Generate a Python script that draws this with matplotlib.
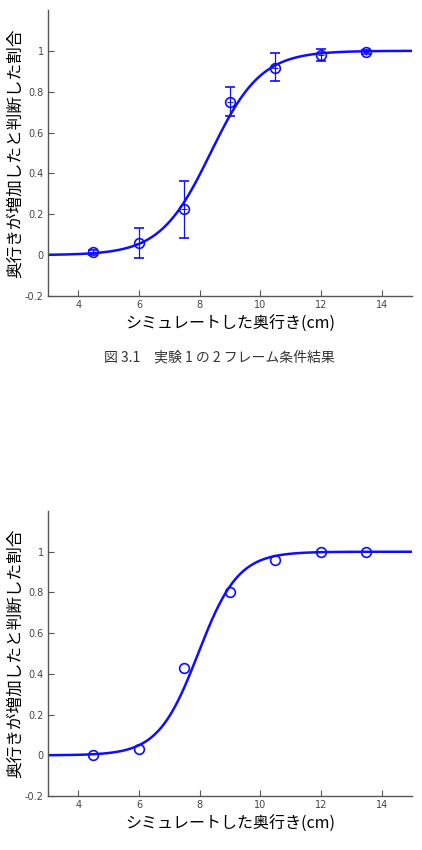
import numpy as np
import matplotlib.pyplot as plt

plt.rcParams['font.family'] = ['Noto Sans CJK JP', 'DejaVu Sans']

# 呈示した奥行き (cm)
depth = [4.5, 6, 7.5, 9, 10.5, 12, 13.5]

# 上: 2フレーム条件 (平均と誤差)
prop_top = [0.013, 0.06, 0.227, 0.75, 0.918, 0.979, 0.993]
err_lo_top = [0.012, 0.073, 0.142, 0.07, 0.068, 0.031, 0.01]
err_hi_top = [0.012, 0.074, 0.138, 0.074, 0.071, 0.028, 0.01]

# 下: 一人分
prop_bot = [0.0, 0.031, 0.431, 0.80, 0.96, 1.0, 1.0]

# ロジスティック当てはめのパラメータ
fit_top = (8.36, 0.83)
fit_bot = (7.95, 0.66)

xticks = [4, 6, 8, 10, 12, 14]
yticks = [-0.2, 0, 0.2, 0.4, 0.6, 0.8, 1]
ytick_labels = ['-0.2', '0', '0.2', '0.4', '0.6', '0.8', '1']

blue = '#0d0dff'
xlab = 'シミュレートした奥行き(cm)'
ylab = '奥行きが増加したと判断した割合'


def logistic(x, mu, s):
    return 1.0 / (1.0 + np.exp(-(x - mu) / s))


def style(ax):
    ax.set_xlim(3, 15)
    ax.set_ylim(-0.2, 1.2)
    for side in ['top', 'right']:
        ax.spines[side].set_visible(False)
    for side in ['left', 'bottom']:
        ax.spines[side].set_color('#555555')
        ax.spines[side].set_linewidth(1.0)
    ax.set_xticks(xticks)
    ax.set_yticks(yticks)
    ax.set_yticklabels(ytick_labels)
    ax.tick_params(direction='in', length=4, width=0.8, color='#555555',
                   labelsize=7, labelcolor='#444444', pad=3)
    for lab in ax.get_xticklabels() + ax.get_yticklabels():
        lab.set_family(['Liberation Sans Narrow', 'DejaVu Sans'])
    ax.set_xlabel(xlab, fontsize=11.5, labelpad=4)
    ax.set_ylabel(ylab, fontsize=12, labelpad=1)


fig = plt.figure(figsize=(4.22, 8.5), dpi=100)
ax1 = fig.add_axes([0.1137, 0.6518, 0.8626, 0.3365])
ax2 = fig.add_axes([0.1137, 0.0635, 0.8626, 0.3353])

xs = np.linspace(3, 15, 400)

# 上のグラフ
ax1.plot(xs, logistic(xs, *fit_top), color=blue, lw=1.8)
ax1.errorbar(depth, prop_top, yerr=[err_lo_top, err_hi_top], fmt='o',
             mfc='none', mec=blue, color=blue, ms=7, mew=1.2,
             elinewidth=0.9, capsize=3.5, capthick=0.9)
ax1.plot(depth, prop_top, '+', color=blue, ms=4, mew=0.7)
style(ax1)

# 下のグラフ
ax2.plot(xs, logistic(xs, *fit_bot), color=blue, lw=1.8)
ax2.plot(depth, prop_bot, 'o', mfc='none', mec=blue, ms=7, mew=1.2)
style(ax2)

fig.text(0.52, 1 - 357 / 850, '図 3.1　実験 1 の 2 フレーム条件結果',
         ha='center', va='center', fontsize=10, color='#333333')

fig.savefig('out.png', dpi=100)
